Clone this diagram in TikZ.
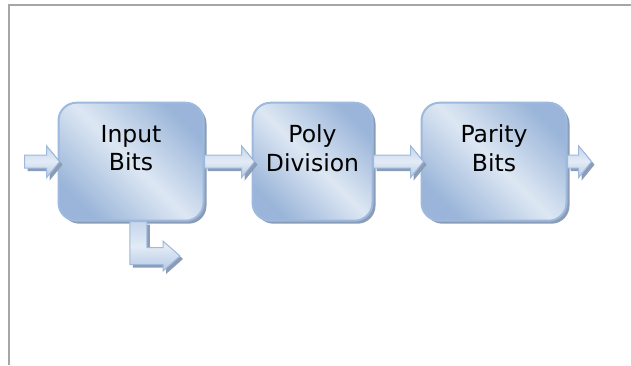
\documentclass[tikz,border=0pt]{standalone}
\usepackage{fontspec}
\setmainfont{DejaVu Sans}
\usepackage{xcolor}
\usetikzlibrary{positioning,shadows,calc}

\definecolor{blockdark}{HTML}{9AB5D9}
\definecolor{blocklight}{HTML}{DDE7F3}
\definecolor{blockline}{HTML}{9DB9DD}
\definecolor{blockshadow}{HTML}{8B9CB6}
\definecolor{flowtop}{HTML}{C5D6EC}
\definecolor{flowmid}{HTML}{E3EBF6}
\definecolor{flowbottom}{HTML}{B5C9E4}
\definecolor{framegray}{HTML}{A6A6A6}

\tikzset{
  block/.style={rectangle, rounded corners=18pt, draw=blockline, line width=2pt,
    minimum height=118pt, inner sep=0pt,
    top color=blockdark, bottom color=blockdark, middle color=blocklight,
    shading angle=-45,
    drop shadow={shadow xshift=3pt, shadow yshift=-3pt, fill=blockshadow, opacity=1}},
  blocktext/.style={align=center, yshift=13.5pt,
    font=\fontsize{23.5pt}{28.3pt}\selectfont},
  flow/.style={draw=blockline, line width=1pt,
    top color=flowtop, bottom color=flowbottom, middle color=flowmid,
    drop shadow={shadow xshift=3pt, shadow yshift=-3pt, fill=blockshadow, opacity=1}}
}

% fat arrow from #1 to the tip at #2, kept level with #1
\newcommand{\flowarrow}[2]{%
  \path[flow] let \p1=(#1), \p2=(#2) in
    (\x1,\y1+6.5pt) -- (\x2-13pt,\y1+6.5pt) -- (\x2-13pt,\y1+16pt) -- (\x2,\y1)
    -- (\x2-13pt,\y1-16pt) -- (\x2-13pt,\y1-6.5pt) -- (\x1,\y1-6.5pt) -- cycle;}

\begin{document}
\begin{tikzpicture}[x=1pt, y=-1pt, node distance=47pt]
  \useasboundingbox (0,0) rectangle (631,365);
  \draw[framegray, line width=2pt] (631,5) -- (8.5,5) -- (8.5,365);

  \node[block, minimum width=145pt] (inbits) at (131,161.7)
    [label={[blocktext]center:Input\\Bits}] {};
  \node[block, minimum width=120pt] (poly) [right=of inbits]
    [label={[blocktext]center:Poly\\Division}] {};
  \node[block, minimum width=145pt] (parity) [right=of poly]
    [label={[blocktext]center:Parity\\Bits}] {};

  \coordinate[left=33pt of inbits]  (src);
  \coordinate[right=24pt of parity] (sink);
  \coordinate (store) at ([xshift=49pt,yshift=-94.3pt]inbits.center);

  \flowarrow{src}{[xshift=2pt]inbits.west}
  \flowarrow{inbits.east}{[xshift=3pt]poly.west}
  \flowarrow{poly.east}{[xshift=3pt]parity.west}
  \flowarrow{parity.east}{sink}

  % bent arrow leaving the bottom of the input block
  \path[flow] let \p1=([xshift=7.3pt]inbits.south), \p2=(store) in
    (\x1-8.5pt,\y1) -- (\x1-8.5pt,\y2-8.5pt) -- (\x2-17pt,\y2-8.5pt)
    -- (\x2-17pt,\y2-15pt) -- (\x2,\y2) -- (\x2-17pt,\y2+15pt)
    -- (\x2-17pt,\y2+8.5pt) -- (\x1+8.5pt,\y2+8.5pt) -- (\x1+8.5pt,\y1) -- cycle;
\end{tikzpicture}
\end{document}
